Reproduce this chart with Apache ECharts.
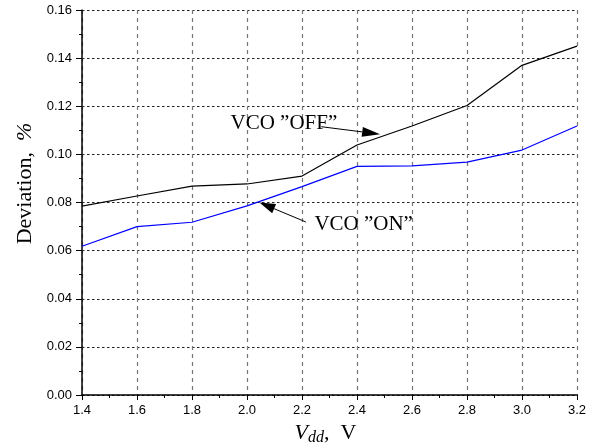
<!DOCTYPE html>
<html>
<head>
<meta charset="utf-8">
<script src="https://cdn.jsdelivr.net/npm/echarts@6/dist/echarts.min.js"></script>
<style>html,body{margin:0;padding:0;background:#fff}#c{width:592px;height:448px}</style>
</head>
<body>
<div id="c"></div>
<script>
const vdd = [1.4, 1.6, 1.8, 2.0, 2.2, 2.4, 2.6, 2.8, 3.0, 3.2];
const vcoOff = [0.0785, 0.0827, 0.0868, 0.0877, 0.0910, 0.1039, 0.1118, 0.1203, 0.1370, 0.1450];
const vcoOn = [0.0618, 0.0700, 0.0718, 0.0786, 0.0866, 0.0950, 0.0952, 0.0968, 0.1018, 0.1118];
const offLabel = 'VCO \u201dOFF\u201d';
const onLabel = 'VCO \u201dON\u201d';
const offArrow = [[2.27, 0.1115], [2.484, 0.1084]];
const onArrow = [[2.214, 0.0719], [2.045, 0.0800]];
const offText = [1.94, 0.113];
const onText = [2.245, 0.0707];

const chart = echarts.init(document.getElementById('c'));
const serif = 'Liberation Serif, DejaVu Serif, serif';
const tickFont = {fontFamily: 'Liberation Sans Narrow, Liberation Sans, Arial', fontSize: 13, color: '#000'};
function pairs(xs, ys) { return xs.map((x, i) => [x, ys[i]]); }

chart.setOption({
  animation: false,
  grid: {left: 82, right: 15, top: 10, bottom: 53, containLabel: false, outerBoundsMode: 'none'},
  xAxis: {
    type: 'value', min: 1.4, max: 3.2, interval: 0.2,
    axisLine: {show: true, onZero: false, lineStyle: {color: '#000', width: 1.5}},
    axisTick: {show: true, inside: false, length: 5, lineStyle: {color: '#000'}},
    minorTick: {show: true, splitNumber: 2, length: 3, lineStyle: {color: '#000'}},
    axisLabel: Object.assign({formatter: v => v.toFixed(1), margin: 9}, tickFont),
    splitLine: {show: true, lineStyle: {color: '#777', type: [4, 4], width: 1.2}},
    name: '{i|V}{s|dd}{n|,  V}',
    nameLocation: 'middle', nameGap: 26,
    nameTextStyle: {
      padding: [0, 8, 0, 0],
      rich: {
        i: {fontFamily: serif, fontStyle: 'italic', fontSize: 22, color: '#000'},
        s: {fontFamily: serif, fontStyle: 'italic', fontSize: 16, color: '#000', verticalAlign: 'bottom', padding: [9, 0, 0, 0]},
        n: {fontFamily: serif, fontSize: 22, color: '#000'}
      }
    }
  },
  yAxis: {
    type: 'value', min: 0, max: 0.16, interval: 0.02,
    axisLine: {show: true, lineStyle: {color: '#000', width: 1.5}},
    axisTick: {show: true, inside: false, length: 6, lineStyle: {color: '#000'}},
    minorTick: {show: true, splitNumber: 2, length: 3, lineStyle: {color: '#000'}},
    axisLabel: Object.assign({formatter: v => v.toFixed(2), margin: 10}, tickFont),
    splitLine: {show: true, lineStyle: {color: '#222', type: [2.5, 2.5], width: 1.2}},
    name: '{n|Deviation,  }{p|%}',
    nameLocation: 'middle', nameGap: 45, nameRotate: 90,
    nameTextStyle: {
      padding: [0, 0, 0, 38],
      rich: {
        n: {fontFamily: serif, fontSize: 22, color: '#000'},
        p: {fontFamily: serif, fontStyle: 'italic', fontSize: 22, color: '#000'}
      }
    }
  },
  series: [
    {
      name: offLabel, type: 'line', data: pairs(vdd, vcoOff),
      symbol: 'none', lineStyle: {color: '#000', width: 1.2}, z: 3,
      markPoint: {
        silent: true, symbol: 'rect', symbolSize: 0,
        label: {show: true, position: 'right', distance: 0, formatter: offLabel,
          fontFamily: serif, fontSize: 21, color: '#000'},
        data: [{coord: offText}]
      }
    },
    {
      name: onLabel, type: 'line', data: pairs(vdd, vcoOn),
      symbol: 'none', lineStyle: {color: '#0000ff', width: 1.2}, z: 3,
      markPoint: {
        silent: true, symbol: 'rect', symbolSize: 0,
        label: {show: true, position: 'right', distance: 0, formatter: onLabel,
          fontFamily: serif, fontSize: 21, color: '#000'},
        data: [{coord: onText}]
      }
    }
  ]
});

function arrow(a, headLen, headW) {
  const p0 = chart.convertToPixel({gridIndex: 0}, a[0]);
  const p1 = chart.convertToPixel({gridIndex: 0}, a[1]);
  const dx = p1[0] - p0[0], dy = p1[1] - p0[1];
  const L = Math.hypot(dx, dy), ux = dx / L, uy = dy / L;
  const bx = p1[0] - ux * headLen, by = p1[1] - uy * headLen;
  const nx = -uy * headW / 2, ny = ux * headW / 2;
  return [
    {type: 'line', shape: {x1: p0[0], y1: p0[1], x2: bx, y2: by}, style: {stroke: '#000', lineWidth: 1}, z: 10},
    {type: 'polygon', shape: {points: [[p1[0], p1[1]], [bx + nx, by + ny], [bx - nx, by - ny]]}, style: {fill: '#000'}, z: 10}
  ];
}
chart.setOption({graphic: arrow(offArrow, 18, 10).concat(arrow(onArrow, 16, 10))});
</script>
</body>
</html>
